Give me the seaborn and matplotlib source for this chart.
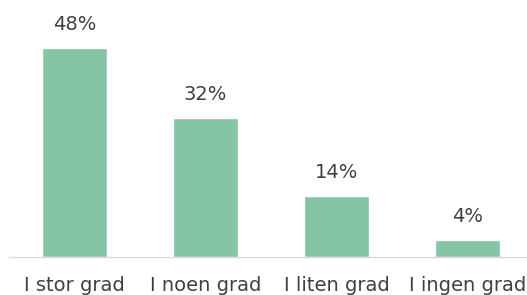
import matplotlib
matplotlib.use("Agg")
import matplotlib.pyplot as plt
import seaborn as sns
import pandas as pd

# chart data
categories = ["I stor grad", "I noen grad", "I liten grad", "I ingen grad"]
shares = [48, 32, 14, 4]

bar_color = "#85C4A5"
text_color = "#404040"

sns.set_style("white")
plt.rcParams["font.family"] = ["DejaVu Sans"]

df = pd.DataFrame({"Category": categories, "Share": shares})

fig = plt.figure(figsize=(5.27, 2.95), dpi=100)
ax = fig.add_axes([9 / 527, 38 / 295, 524 / 527, 239.5 / 295])

sns.barplot(data=df, x="Category", y="Share", color=bar_color,
            width=0.5, saturation=1, ax=ax)

for bar, val in zip(ax.patches, shares):
    ax.annotate(f"{val}%",
                (bar.get_x() + bar.get_width() / 2, bar.get_height()),
                xytext=(0, 10), textcoords="offset points",
                ha="center", va="bottom", fontsize=14, color=text_color)

ax.set_xlim(-0.5, 3.5)
ax.set_ylim(0, 55)
ax.set_xlabel("")
ax.set_ylabel("")
ax.set_yticks([])
ax.tick_params(axis="x", length=0, pad=14, labelsize=14, labelcolor=text_color)
for side in ["top", "right", "left"]:
    ax.spines[side].set_visible(False)
ax.spines["bottom"].set_color("#D9D9D9")
ax.spines["bottom"].set_linewidth(1)

fig.savefig("out.png", dpi=100)
